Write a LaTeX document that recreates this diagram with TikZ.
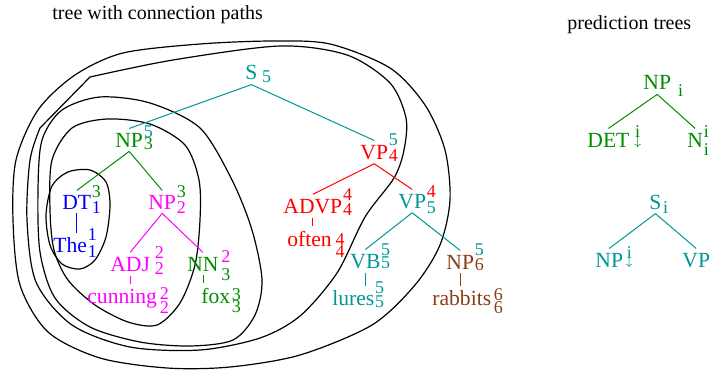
\documentclass[tikz,border=0pt]{standalone}
\usepackage{fontspec}
\setmainfont{Liberation Serif}

\definecolor{tealc}{RGB}{0,150,150}
\definecolor{greenc}{RGB}{0,140,0}
\definecolor{brownc}{RGB}{140,60,20}
\definecolor{magc}{RGB}{255,0,255}
\definecolor{redc}{RGB}{255,0,0}
\definecolor{bluec}{RGB}{0,0,255}

\tikzset{
    word/.style={anchor=base west, inner xsep=0pt, inner ysep=2pt, font=\fontsize{10.8}{12}\selectfont},
    ix/.style={anchor=base west, inner sep=0pt, font=\fontsize{9}{9}\selectfont},
    tedge/.style={line width=0.5pt},
    conn/.style={line width=0.6pt, black},
    heading/.style={anchor=base west, inner sep=0pt, font=\fontsize{10}{12}\selectfont},
}

% upper index raised by #1 in colour #3, lower index shifted by #2
\newcommand{\ixat}[5]{\rlap{\raisebox{#1}{\textcolor{#3}{#4}}}\raisebox{#2}{#5}}
% upper index i with a substitution arrow below it
\newcommand{\iarrow}[1]{\rlap{\raisebox{#1}{i}}\makebox[2.5pt]{\raisebox{0.7pt}{$\scriptstyle\downarrow$}}}

\begin{document}
\begin{tikzpicture}[x=0.5pt, y=-0.5pt]
    \useasboundingbox (0,0) rectangle (716,369);

    % Headings
    \node[heading] (ttl) at (52,20) {tree with connection paths};
    \node[heading] (pttl) at (567,30) {prediction trees};

    % Connection paths (one per prefix)
    \draw[conn] plot[smooth cycle] coordinates {(90,170) (106,182) (110,205) (106,237) (95,260) (80,269) (62,264) (50,245) (46,215) (52,186) (68,172)};
    \draw[conn] plot[smooth cycle] coordinates {(107,119) (150,124) (185,145) (199,180) (200,220) (195,265) (180,303) (157,325) (128,322) (95,305) (68,280) (54,250) (50,210) (52,160) (72,128)};
    \draw[conn] plot[smooth cycle] coordinates {(100,97) (150,103) (200,128) (232,180) (252,230) (262,280) (255,315) (233,340) (190,346) (140,342) (90,327) (55,298) (40,252) (38,190) (42,140) (62,110)};
    \draw[conn] plot[smooth] coordinates {(90,77) (173,60) (280,46) (347,55) (390,83) (406,118) (404,150) (394,178) (365,217) (337,273) (300,316) (260,338) (200,350) (130,347) (72,325) (36,282) (27,220) (30,160) (40,128)} -- cycle;
    \draw[conn] plot[smooth cycle] coordinates {(13,220) (16,160) (38,110) (75,75) (123,53) (200,44) (273,41) (330,44) (390,68) (425,105) (445,150) (450,200) (440,245) (415,285) (372,325) (300,355) (230,367) (167,368) (100,358) (48,332) (20,285)};

    % Tree: categories and words
    \node[word,tealc] (s) at (245,80) {S};
    \node[ix,tealc] (si) at ([xshift=2pt]s.base east) {\raisebox{-1.5pt}{5}};

    \node[word,greenc] (np3) at (115,147) {NP};
    \node[ix,greenc] (np3i) at (np3.base east) {\ixat{5pt}{-1.5pt}{tealc}{5}{3}};
    \node[word,redc] (vp4) at (360,159) {VP};
    \node[ix,redc] (vp4i) at (vp4.base east) {\ixat{7pt}{-1pt}{tealc}{5}{4}};

    \node[word,bluec] (dt) at (62,209) {DT};
    \node[ix,bluec] (dti) at (dt.base east) {\ixat{6pt}{-2pt}{greenc}{3}{1}};
    \node[word,bluec] (the) at (53,252) {The};
    \node[ix,bluec] (thei) at (the.base east) {\ixat{6pt}{-2.5pt}{bluec}{1}{1}};

    \node[word,magc] (np2) at (148,209) {NP};
    \node[ix,magc] (np2i) at (np2.base east) {\ixat{6pt}{-2pt}{greenc}{3}{2}};
    \node[word,magc] (adj) at (110,271) {ADJ};
    \node[ix,magc] (adji) at ([xshift=2pt]adj.base east) {\ixat{6.5pt}{-1.5pt}{magc}{2}{2}};
    \node[word,magc] (cun) at (87,303) {cunning};
    \node[ix,magc] (cuni) at ([xshift=1pt]cun.base east) {\ixat{2pt}{-5pt}{magc}{2}{2}};
    \node[word,greenc] (nn) at (187,271) {NN};
    \node[ix,greenc] (nni) at ([xshift=1pt]nn.base east) {\ixat{4.5pt}{-4.5pt}{magc}{2}{3}};
    \node[word,greenc] (fox) at (201,303) {fox};
    \node[ix,greenc] (foxi) at ([xshift=0.5pt]fox.base east) {\ixat{1.5pt}{-4.5pt}{greenc}{3}{3}};

    \node[word,redc] (advp) at (283,213) {ADVP};
    \node[ix,redc] (advpi) at (advp.base east) {\ixat{6.5pt}{-1pt}{redc}{4}{4}};
    \node[word,redc] (often) at (287,246) {often};
    \node[ix,redc] (ofteni) at ([xshift=1.5pt]often.base east) {\ixat{0.5pt}{-5.5pt}{redc}{4}{4}};
    \node[word,tealc] (vp5) at (398,208) {VP};
    \node[ix,tealc] (vp5i) at (vp5.base east) {\ixat{5.5pt}{-2.5pt}{redc}{4}{5}};

    \node[word,tealc] (vb) at (350,268) {VB};
    \node[ix,tealc] (vbi) at (vb.base east) {\ixat{6.5pt}{0pt}{tealc}{5}{5}};
    \node[word,tealc] (lures) at (332,305) {lures};
    \node[ix,tealc] (luresi) at (lures.base east) {\ixat{6pt}{-1pt}{tealc}{5}{5}};
    \node[word,brownc] (np6) at (446,269) {NP};
    \node[ix,brownc] (np6i) at (np6.base east) {\ixat{7pt}{-0.5pt}{tealc}{5}{6}};
    \node[word,brownc] (rab) at (432,305) {rabbits};
    \node[ix,brownc] (rabi) at ([xshift=1pt]rab.base east) {\ixat{2.5pt}{-4pt}{brownc}{6}{6}};

    % Tree edges
    \draw[tedge,tealc] (s.south) -- (np3.north);
    \draw[tedge,tealc] (s.south) -- (vp4.north);
    \draw[tedge,greenc] (np3.south) -- (dt.north);
    \draw[tedge,greenc] (np3.south) -- (np2.north);
    \draw[tedge,magc] (np2.south) -- (adj.north);
    \draw[tedge,magc] (np2.south) -- (nn.north);
    \draw[tedge,redc] (vp4.south) -- (advp.north);
    \draw[tedge,redc] (vp4.south) -- (vp5.north);
    \draw[tedge,tealc] (vp5.south) -- (vb.north);
    \draw[tedge,tealc] (vp5.south) -- (np6.north);

    % Lexical anchors
    \draw[tedge,bluec] (dt.south) -- (dt.south |- the.north);
    \draw[tedge,magc] (adj.south) -- (adj.south |- cun.north);
    \draw[tedge,greenc] (nn.south) -- (nn.south |- fox.north);
    \draw[tedge,redc] (advp.south) -- (advp.south |- often.north);
    \draw[tedge,tealc] (vb.south) -- (vb.south |- lures.north);
    \draw[tedge,brownc] (np6.south) -- (np6.south |- rab.north);

    % Prediction trees
    \node[word,greenc] (npp) at (643,90) {NP};
    \node[ix,greenc] (nppi) at ([xshift=3.2pt]npp.base east) {\raisebox{-3.5pt}{i}};
    \node[word,greenc] (det) at (587,147) {DET};
    \node[ix,greenc] (deti) at ([xshift=2.5pt]det.base east) {\iarrow{5pt}};
    \node[word,greenc] (nq) at (687,147) {N};
    \node[ix,greenc] (nqi) at (nq.base east) {\ixat{5pt}{-4pt}{greenc}{i}{i}};
    \draw[tedge,greenc] (npp.south) -- (det.north);
    \draw[tedge,greenc] (npp.south) -- (nq.north);

    \node[word,tealc] (sp) at (649,209) {S};
    \node[ix,tealc] (spi) at ([xshift=0.5pt]sp.base east) {\raisebox{-2pt}{i}};
    \node[word,tealc] (npq) at (595,267) {NP};
    \node[ix,tealc] (npqi) at ([xshift=1.5pt]npq.base east) {\iarrow{4.5pt}};
    \node[word,tealc] (vpq) at (682,267) {VP};
    \draw[tedge,tealc] (sp.south) -- (npq.north);
    \draw[tedge,tealc] (sp.south) -- (vpq.north);
\end{tikzpicture}
\end{document}
